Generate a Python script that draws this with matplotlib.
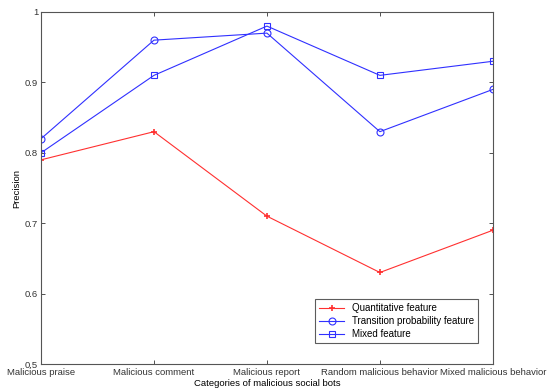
import matplotlib
matplotlib.use("Agg")
import matplotlib.pyplot as plt

categories = ["Malicious praise", "Malicious comment", "Malicious report",
              "Random malicious behavior", "Mixed malicious behavior"]
quantitative = [0.79, 0.83, 0.71, 0.63, 0.69]
transition = [0.82, 0.96, 0.97, 0.83, 0.89]
mixed = [0.80, 0.91, 0.98, 0.91, 0.93]
yticks = [0.5, 0.6, 0.7, 0.8, 0.9, 1.0]
ytick_labels = ["0.5", "0.6", "0.7", "0.8", "0.9", "1"]

plt.rcParams['font.family'] = ['Liberation Sans', 'DejaVu Sans']
fig = plt.figure(figsize=(5.47, 3.92), dpi=100)
ax = fig.add_axes([0.075, 0.0714, 0.826, 0.898])
x = list(range(len(categories)))
ax.plot(x, quantitative, color='#ff3030', marker='+', markersize=5, lw=0.8,
        mew=1.2, label='Quantitative feature')
ax.plot(x, transition, color='#3030ff', marker='o', markersize=5, lw=0.8,
        mfc='none', mew=0.8, label='Transition probability feature')
ax.plot(x, mixed, color='#3030ff', marker='s', markersize=5, lw=0.8,
        mfc='none', mew=0.8, label='Mixed feature')
ax.set_xlim(0, 4)
ax.set_ylim(0.5, 1.0)
ax.set_xticks(x)
ax.set_xticklabels(categories, fontsize=6.8)
ax.set_yticks(yticks)
ax.set_yticklabels(ytick_labels, fontsize=6.8)
ax.tick_params(direction='in', top=True, right=True, length=3, width=0.6,
               colors='#333333')
ax.tick_params(axis='x', pad=3)
ax.tick_params(axis='y', pad=2)
for s in ax.spines.values():
    s.set_color('#555555')
    s.set_linewidth(0.8)
ax.set_xlabel("Categories of malicious social bots", fontsize=6.8, labelpad=1)
ax.set_ylabel("Precision", fontsize=6.8, labelpad=3)
leg = ax.legend(loc='lower right', bbox_to_anchor=(0.967, 0.06), fontsize=7,
                frameon=True, fancybox=False, edgecolor='#333333',
                borderpad=0.4, labelspacing=0.3, handlelength=2.6,
                borderaxespad=0)
leg.get_frame().set_linewidth(0.8)
fig.savefig("out.png", dpi=100)
